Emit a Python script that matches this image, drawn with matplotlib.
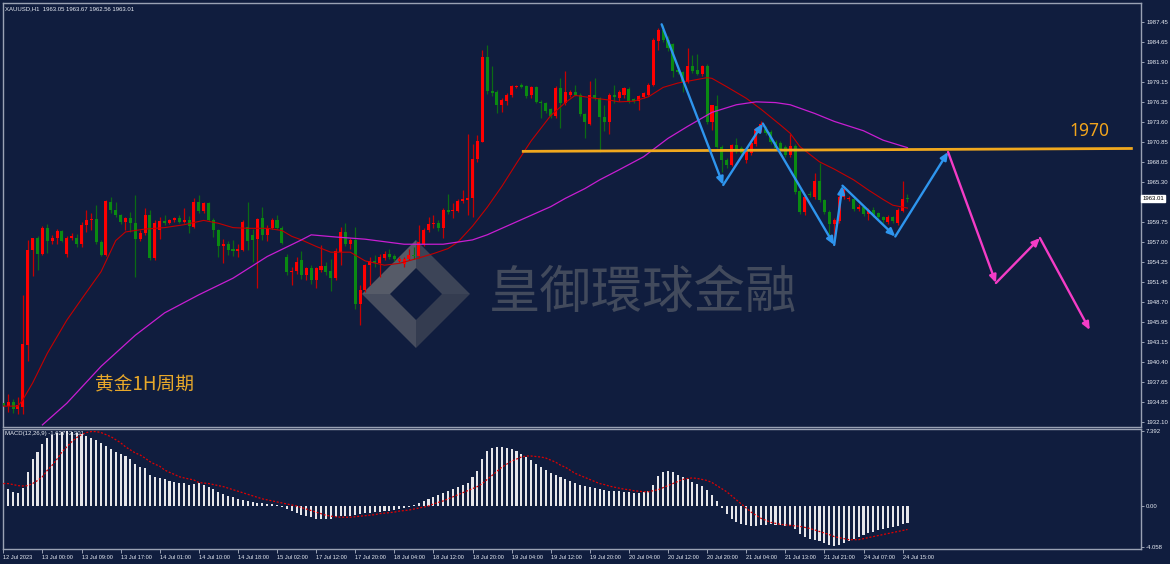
import matplotlib
matplotlib.use("Agg")
import matplotlib.pyplot as plt
from matplotlib.patches import Polygon
import numpy as np

# ---------------- data ----------------
title_text = "XAUUSD,H1  1963.05 1963.67 1962.56 1963.01"
macd_text = "MACD(12,26,9) -1.627 -2.301"

opens = [1934.8,1934.3,1934.9,1933.85,1934.2,1942.8,1955.9,1957.5,1955.4,1959.0,
         1957.1,1957.6,1958.5,1955.4,1957.6,1957.6,1956.8,1959.4,1960.0,1960.2,
         1957.0,1955.2,1962.6,1961.5,1960.7,1959.8,1960.3,1959.7,1957.4,1958.3,
         1960.7,1954.8,1958.7,1959.9,1959.7,1960.0,1960.3,1959.8,1960.1,1959.1,
         1962.6,1961.3,1962.4,1960.1,1958.6,1956.4,1956.7,1956.0,1955.7,1955.9,
         1959.1,1958.0,1957.4,1960.3,1958.0,1959.0,1960.1,1959.0,1955.0,1952.8,
         1953.0,1954.5,1952.4,1953.4,1951.75,1953.1,1953.7,1953.0,1952.0,1955.6,
         1958.4,1956.8,1957.3,1948.4,1950.4,1953.8,1954.4,1954.05,1954.8,1955.4,
         1955.1,1954.4,1953.9,1954.7,1955.2,1955.1,1956.8,1958.7,1959.5,1959.7,
         1958.9,1961.4,1961.3,1961.3,1962.7,1962.8,1963.05,1968.5,1970.9,1982.65,
         1977.9,1977.7,1976.0,1976.5,1977.4,1978.5,1978.7,1978.6,1977.3,1978.4,
         1976.4,1976.2,1975.4,1974.5,1978.3,1976.2,1977.35,1977.7,1977.3,1974.7,
         1973.4,1977.35,1976.9,1974.35,1973.6,1977.35,1977.0,1977.4,1978.2,1976.8,
         1976.5,1977.1,1977.4,1978.8,1984.8,1986.35,1984.96,1984.4,1980.8,1980.5,
         1979.2,1981.4,1980.8,1980.3,1981.3,1973.66,1975.8,1970.2,1968.36,1967.7,
         1970.4,1970.0,1968.4,1969.3,1970.5,1972.5,1972.65,1972.2,1970.8,1970.7,
         1970.1,1969.05,1970.3,1964.07,1961.1,1963.6,1963.3,1965.5,1962.8,1961.2,
         1959.45,1959.9,1963.3,1963.0,1962.9,1961.6,1961.8,1960.9,1961.5,1961.0,
         1960.4,1959.8,1960.4,1959.7,1961.35,1963.05]
highs = [1936.0,1936.0,1935.3,1935.5,1949.7,1957.3,1957.6,1957.9,1959.2,1959.5,
         1958.0,1958.8,1958.7,1957.8,1958.2,1958.1,1959.8,1961.5,1961.0,1962.1,
         1957.3,1962.8,1963.3,1962.6,1960.9,1960.5,1961.2,1963.5,1958.6,1961.7,
         1961.4,1960.0,1960.5,1960.7,1960.2,1960.5,1960.7,1961.7,1960.6,1963.1,
         1963.5,1962.6,1962.6,1960.3,1958.8,1957.4,1957.2,1957.3,1956.8,1960.0,
         1962.6,1958.8,1960.3,1961.9,1959.3,1960.3,1960.8,1959.2,1955.3,1953.5,
         1955.0,1955.7,1953.6,1953.8,1953.6,1956.6,1954.3,1954.7,1956.2,1959.1,
         1959.6,1957.6,1959.1,1951.0,1954.0,1955.0,1955.2,1955.3,1955.7,1956.1,
         1955.4,1955.0,1955.0,1956.1,1956.3,1959.3,1959.0,1960.4,1960.7,1960.0,
         1961.7,1963.7,1962.4,1962.9,1964.2,1971.9,1970.5,1971.8,1983.6,1984.2,
         1981.3,1978.0,1977.0,1977.6,1978.8,1978.8,1979.0,1978.8,1978.6,1978.6,
         1976.6,1976.4,1975.6,1978.6,1979.65,1980.7,1978.0,1978.8,1977.6,1974.9,
         1979.3,1979.7,1977.1,1976.0,1977.6,1978.7,1978.0,1978.5,1978.4,1977.0,
         1977.4,1977.8,1979.0,1985.2,1986.6,1987.0,1985.5,1984.6,1981.5,1980.7,
         1983.8,1982.9,1983.0,1981.5,1981.6,1976.0,1977.35,1970.4,1968.6,1970.6,
         1971.4,1970.3,1969.8,1971.0,1972.9,1973.7,1973.0,1972.5,1971.1,1971.0,
         1970.4,1972.0,1970.6,1964.3,1963.6,1964.0,1966.5,1967.9,1963.0,1961.4,
         1960.3,1963.5,1964.6,1963.4,1963.2,1962.2,1962.0,1961.7,1961.8,1961.2,
         1960.6,1960.7,1960.6,1961.7,1965.45,1963.67]
lows = [1933.8,1933.5,1933.4,1933.2,1933.2,1940.6,1952.3,1953.1,1955.2,1955.5,
        1956.8,1956.7,1957.0,1955.0,1957.3,1956.3,1956.3,1958.4,1958.6,1956.8,
        1955.1,1955.1,1961.0,1960.5,1959.5,1958.7,1958.4,1952.2,1957.2,1958.0,
        1954.5,1954.5,1957.4,1959.4,1959.5,1959.8,1959.6,1959.6,1958.2,1958.9,
        1961.0,1961.0,1959.9,1957.7,1955.0,1954.1,1955.2,1955.1,1955.0,1955.7,
        1955.9,1954.3,1950.7,1957.3,1957.1,1958.8,1958.8,1956.7,1952.5,1951.0,
        1952.6,1951.9,1951.8,1951.2,1950.6,1952.9,1952.5,1950.2,1951.8,1953.8,
        1956.4,1956.0,1947.8,1945.5,1950.1,1951.1,1953.6,1952.2,1954.5,1954.7,
        1954.4,1954.2,1953.6,1954.5,1954.6,1954.8,1956.5,1958.4,1959.0,1958.5,
        1957.5,1960.9,1960.3,1961.2,1962.4,1960.7,1960.5,1968.1,1970.8,1977.5,
        1977.2,1974.8,1975.0,1976.0,1977.1,1978.3,1978.3,1977.0,1977.0,1976.2,
        1974.2,1974.9,1974.2,1974.2,1972.8,1976.0,1977.1,1977.2,1974.4,1971.35,
        1973.2,1976.6,1969.5,1972.3,1971.9,1976.2,1976.5,1977.0,1976.3,1976.3,
        1975.3,1976.9,1977.2,1978.6,1983.6,1984.7,1983.5,1979.9,1980.2,1977.7,
        1979.0,1980.4,1980.1,1980.0,1973.4,1972.5,1970.0,1966.7,1967.3,1967.5,
        1969.3,1969.0,1968.0,1969.0,1970.3,1972.2,1971.8,1970.5,1969.7,1969.4,
        1968.8,1968.8,1963.7,1960.9,1960.8,1963.2,1963.0,1962.5,1960.9,1958.0,
        1956.6,1959.6,1963.0,1962.7,1961.3,1961.3,1960.6,1960.0,1960.5,1960.1,
        1959.7,1959.5,1959.6,1959.4,1961.1,1962.56]
closes = [1934.3,1934.9,1933.85,1934.45,1942.9,1955.9,1957.5,1955.4,1959.0,1957.1,
          1957.6,1958.5,1957.2,1957.6,1957.8,1956.8,1959.4,1960.0,1960.2,1957.0,
          1955.2,1962.7,1961.5,1960.7,1959.8,1960.3,1959.7,1957.4,1958.3,1960.7,
          1954.8,1959.7,1959.9,1959.7,1960.0,1960.3,1959.8,1960.1,1959.2,1962.6,
          1961.3,1962.4,1960.1,1958.6,1956.4,1956.7,1955.9,1955.7,1956.0,1959.8,
          1957.2,1957.3,1960.2,1958.0,1959.0,1960.1,1959.0,1956.9,1952.8,1953.0,
          1954.3,1952.4,1953.4,1951.75,1953.4,1953.7,1952.9,1952.0,1955.7,1958.4,
          1956.8,1957.3,1948.4,1950.4,1953.8,1954.4,1954.1,1955.0,1955.3,1955.0,
          1954.7,1954.7,1954.7,1955.2,1955.1,1957.0,1958.7,1959.5,1959.7,1958.9,
          1961.4,1961.2,1961.4,1962.7,1963.0,1963.05,1968.5,1971.0,1982.65,1977.9,
          1977.6,1976.0,1976.7,1977.4,1978.6,1978.6,1978.5,1977.2,1978.4,1976.4,
          1976.2,1975.1,1974.5,1978.3,1976.2,1977.7,1977.7,1977.4,1974.7,1973.6,
          1977.35,1976.9,1974.35,1973.6,1977.35,1977.1,1977.7,1978.3,1976.5,1976.5,
          1977.2,1977.6,1978.8,1984.96,1986.35,1984.96,1983.9,1980.7,1980.5,1979.2,
          1981.4,1980.7,1980.3,1981.3,1973.66,1975.9,1970.2,1968.36,1967.7,1970.4,
          1969.6,1969.3,1969.5,1970.7,1972.65,1973.4,1972.05,1970.8,1970.0,1969.7,
          1969.1,1970.3,1963.97,1961.1,1963.3,1963.5,1965.5,1962.8,1961.2,1959.45,
          1960.05,1963.3,1964.4,1963.1,1961.6,1961.9,1960.9,1961.4,1960.75,1960.4,
          1960.0,1960.4,1959.9,1961.4,1963.0,1963.01]

ma_red_bar = [0,3,4,6,9,13,16,20,23,25,29,33,37,41,44,47,50,54,57,59,61,64,67,71,74,78,81,84,
              88,91,93,96,99,102,105,108,112,115,117,121,124,126,129,132,135,138,142,144,145,
              148,152,155,159,161,163,167,170,174,177,180,182,185]
ma_red_val = [1934.3,1934.3,1935.2,1937.5,1941.6,1946.2,1949.1,1952.9,1957.2,1958.4,1958.8,
              1959.0,1959.4,1960.0,1959.6,1959.0,1958.9,1958.9,1958.6,1957.8,1957.3,1956.4,
              1955.6,1955.6,1954.4,1953.8,1954.05,1954.6,1955.4,1956.1,1957.0,1959.2,1961.8,
              1964.7,1967.9,1971.0,1974.5,1976.3,1977.3,1976.9,1976.65,1976.4,1976.5,1977.1,
              1978.4,1979.0,1979.5,1979.75,1979.65,1978.5,1976.9,1975.4,1973.2,1972.05,
              1970.2,1968.1,1967.1,1965.6,1964.2,1962.9,1962.1,1961.7]

ma_mag_bar = [8,13,20,27,33,40,47,54,61,63,68,74,82,90,93,96,99,105,112,115,119,122,124,126,
              131,136,140,145,150,154,158,161,166,170,176,180,185]
ma_mag_val = [1931.7,1934.7,1939.8,1944.1,1947.2,1949.7,1952.0,1955.0,1957.3,1958.0,1957.7,
              1957.4,1956.7,1956.7,1957.0,1957.3,1958.0,1959.8,1961.9,1963.05,1964.4,1965.6,
              1966.3,1967.0,1968.8,1971.35,1973.0,1974.95,1976.0,1976.4,1976.3,1976.0,1974.8,
              1973.7,1972.4,1971.1,1970.06]

macd_hist = [1.83,1.63,1.40,1.24,1.73,3.36,4.58,5.33,
             6.1,6.7,7.0,7.2,7.3,7.35,7.3,7.2,7.1,6.9,6.7,6.5,6.2,5.9,5.6,
             5.3,5.1,4.9,4.58,4.12,3.79,3.69,3.04,2.88,2.71,2.61,2.48,2.39,2.29,2.29,2.06,2.16,2.22,
             2.1,1.9,1.7,1.4,1.2,1.0,0.85,0.7,0.55,0.5,0.4,0.3,0.25,0.2,0.15,0.1,
             -0.1,-0.3,-0.5,-0.7,-0.9,-1.0,-1.1,-1.25,-1.3,-1.3,-1.25,-1.1,-1.0,-0.95,-1.0,-0.9,
             -0.8,-0.7,-0.65,-0.6,-0.55,-0.5,-0.45,-0.4,-0.3,-0.2,-0.1,
             0.1,0.3,0.5,0.7,0.9,1.1,1.3,1.5,1.7,1.9,2.1,2.3,
             2.8,3.4,4.6,5.4,5.7,5.8,5.8,5.7,5.6,5.4,5.1,4.8,4.5,4.1,3.8,3.5,3.2,
             3.0,2.8,2.6,2.5,2.3,2.1,2.0,1.9,1.8,1.7,1.6,1.5,1.5,1.45,1.4,1.35,1.3,1.3,
             1.35,1.5,2.1,2.9,3.3,3.4,3.3,3.0,2.8,2.6,2.4,2.2,2.0,1.6,1.1,
             0.5,-0.2,-0.8,-1.3,-1.6,-1.8,-1.9,-2.0,-1.95,-1.9,-1.85,-1.8,-1.85,-1.9,-2.0,
             -2.0,-2.3,-2.7,-3.0,-3.2,-3.3,-3.4,-3.6,-3.8,-3.9,-3.8,-3.6,-3.4,-3.2,-3.0,
             -2.8,-2.6,-2.5,-2.4,-2.3,-2.2,-2.1,-2.0,-1.8,-1.627]
macd_signal = [2.2,2.2,2.1,2.0,1.96,2.0,2.2,2.5,2.87,3.5,4.0,4.6,5.3,5.8,6.3,6.7,7.0,7.2,7.3,7.3,
               7.2,7.0,6.8,6.5,6.2,5.8,5.5,5.2,5.0,4.7,4.35,4.1,3.9,3.53,3.3,3.1,2.87,2.75,2.65,2.55,2.3,
               2.25,2.2,2.1,2.0,1.9,1.75,1.6,1.45,1.3,1.15,1.0,0.85,0.7,0.6,0.5,0.4,
               0.3,0.2,0.1,0.0,-0.15,-0.3,-0.45,-0.6,-0.75,-0.9,-1.0,-1.05,-1.1,-1.1,-1.1,-1.05,
               -1.0,-0.95,-0.9,-0.85,-0.75,-0.7,-0.65,-0.6,-0.5,-0.45,-0.4,
               -0.3,-0.2,-0.1,0.0,0.2,0.35,0.5,0.7,0.9,1.1,1.3,1.5,
               1.7,1.9,2.2,2.6,3.0,3.4,3.8,4.1,4.4,4.6,4.8,4.9,4.9,4.85,4.8,4.7,4.5,
               4.3,4.0,3.8,3.5,3.2,3.0,2.8,2.6,2.4,2.2,2.1,1.95,1.85,1.75,1.65,1.6,1.5,1.45,
               1.4,1.4,1.5,1.6,1.8,2.0,2.2,2.4,2.6,2.7,2.75,2.7,2.6,2.5,2.3,
               2.0,1.7,1.4,1.0,0.6,0.2,-0.2,-0.6,-0.9,-1.2,-1.4,-1.6,-1.7,-1.8,-1.85,
               -1.9,-1.95,-2.0,-2.1,-2.2,-2.35,-2.5,-2.65,-2.8,-3.0,-3.1,-3.2,-3.3,-3.3,-3.3,
               -3.2,-3.1,-3.0,-2.9,-2.8,-2.7,-2.6,-2.5,-2.4,-2.301]

price_ticks = [1987.45,1984.65,1981.90,1979.15,1976.35,1973.60,1970.85,1968.05,1965.30,
               1959.75,1957.00,1954.25,1951.45,1948.70,1945.95,1943.15,1940.40,1937.65,
               1934.85,1932.10]
macd_ticks = [7.392, 0.00, -4.058]
macd_tick_labels = ["7.392", "0.00", "-4.058"]
time_tick_bars = list(range(0, 185, 8))
time_tick_labels = ["12 Jul 2023","13 Jul 00:00","13 Jul 09:00","13 Jul 17:00","14 Jul 01:00",
                    "14 Jul 10:00","14 Jul 18:00","15 Jul 02:00","17 Jul 12:00","17 Jul 20:00",
                    "18 Jul 04:00","18 Jul 12:00","18 Jul 20:00","19 Jul 04:00","19 Jul 12:00",
                    "19 Jul 20:00","20 Jul 04:00","20 Jul 12:00","20 Jul 20:00","21 Jul 04:00",
                    "21 Jul 13:00","21 Jul 21:00","24 Jul 07:00","24 Jul 15:00"]
last_price = 1963.01

level_bar = [106.1, 231.1]
level_val = [1969.55, 1969.95]
level_label = "1970"

blue_bar = [134.7, 147.3, 155.4, 170.0, 171.7, 182.5, 193.3]
blue_val = [1987.13, 1964.9, 1973.4, 1956.6, 1964.8, 1957.77, 1969.46]
pink_bar = [193.3, 203.1, 212.1, 222.3]
pink_val = [1969.46, 1951.34, 1957.56, 1944.83]

period_label = "黄金1H周期"
watermark = "皇御環球金融"

# ---------------- style ----------------
W, H = 1170, 564
BG = "#101d3e"
FRAME = "#9aa2b4"
TXT = "#e8ecf4"
UP = "#ff0000"
DOWN = "#0a8a12"
UPW = "#c80000"
DOWNW = "#0b6a14"
small_font = ["Liberation Sans", "DejaVu Sans"]
FS = 4.3

fig = plt.figure(figsize=(W / 100, H / 100), dpi=100, facecolor=BG)

def fx(px):
    return px / W

def fy(py):
    return 1 - py / H

# bar i sits at pixel 3.3 + 4.8875 * i
def bar_lim(px):
    return (px - 3.3) / 4.8875

XL = (bar_lim(3), bar_lim(1141))

# background overlay for watermark
bg_ax = fig.add_axes([0, 0, 1, 1], zorder=0)
bg_ax.set_xlim(0, W)
bg_ax.set_ylim(H, 0)
bg_ax.axis("off")
outer = dict(t=(416, 240), r=(470, 294), b=(416, 348), l=(362, 294))
inner = dict(t=(416, 268), r=(442, 294), b=(416, 320), l=(390, 294))
bands = [
    ([outer["l"], outer["t"], inner["t"], inner["l"]], "#565b68"),
    ([outer["t"], outer["r"], inner["r"], inner["t"]], "#3c4457"),
    ([outer["r"], outer["b"], inner["b"], inner["r"]], "#343c50"),
    ([outer["b"], outer["l"], inner["l"], inner["b"]], "#474d5e"),
]
for pts, col in bands:
    bg_ax.add_patch(Polygon(pts, closed=True, facecolor=col, edgecolor="none"))
bg_ax.text(643, 293, watermark, fontsize=37, color="#424a5c", ha="center", va="center",
           family=["Noto Sans CJK TC", "Noto Sans CJK SC", "DejaVu Sans"])

# ---------------- main price axes ----------------
ax = fig.add_axes([fx(3), fy(427), fx(1141) - fx(3), (427 - 3) / H], zorder=1)
ax.set_facecolor("none")
ax.set_xlim(*XL)

def price_at(py):
    return 1987.45 - (py - 22) / 7.227

ax.set_ylim(price_at(427), price_at(3))

o = np.array(opens); h = np.array(highs); l = np.array(lows); c = np.array(closes)
xs = np.arange(len(c))
up = c >= o
ax.vlines(xs[up], l[up], h[up], color=UPW, lw=0.9, zorder=2)
ax.vlines(xs[~up], l[~up], h[~up], color=DOWNW, lw=0.9, zorder=2)
body_lo = np.minimum(o, c)
body_h = np.maximum(np.abs(c - o), 0.13)
ax.bar(xs[up], body_h[up], bottom=body_lo[up], width=0.62, color=UP, linewidth=0, zorder=3)
ax.bar(xs[~up], body_h[~up], bottom=body_lo[~up], width=0.62, color=DOWN, linewidth=0, zorder=3)

ax.plot(ma_red_bar, ma_red_val, color="#c40000", lw=0.8, zorder=4)
ax.plot(ma_mag_bar, ma_mag_val, color="#c81ed2", lw=0.9, zorder=4)

ax.plot(level_bar, level_val, color="#f0a81e", lw=2.0, zorder=5, solid_capstyle="butt")
ax.text(222.3, 1972.4, level_label, color="#f2a51c", fontsize=12.5, ha="center", va="center",
        family=["Noto Sans", "DejaVu Sans"], zorder=6)

def arrows(bx, by, col):
    for i in range(len(bx) - 1):
        ax.annotate("", xy=(bx[i + 1], by[i + 1]), xytext=(bx[i], by[i]),
                    arrowprops=dict(arrowstyle="-|>,head_length=0.45,head_width=0.2",
                                    color=col, lw=1.7, shrinkA=0, shrinkB=0),
                    zorder=7)

arrows(blue_bar, blue_val, "#2e95ee")
arrows(pink_bar, pink_val, "#f43cc6")

ax.text(18.7, 1937.2, period_label, color="#e8a82a", fontsize=13.5, ha="left", va="center",
        family=["Noto Sans CJK SC", "DejaVu Sans"], zorder=6)

ax.yaxis.tick_right()
ax.set_yticks(price_ticks)
ax.set_yticklabels([f"{v:.2f}" for v in price_ticks])
ax.tick_params(axis="y", direction="out", length=2.5, width=0.7, color=FRAME, labelcolor=TXT,
               labelsize=FS, pad=1.2)
for lab in ax.get_yticklabels():
    lab.set_family(small_font)
ax.set_xticks([])
for s in ax.spines.values():
    s.set_color(FRAME)
    s.set_linewidth(1.0)

ax.text(1.0012, last_price, f"{last_price:.2f}", transform=ax.get_yaxis_transform(),
        ha="left", va="center", fontsize=FS, color="black", family=small_font,
        bbox=dict(boxstyle="square,pad=0.2", facecolor="white", edgecolor="white"),
        clip_on=False, zorder=10)
ax.text(0.002, 0.992, title_text, transform=ax.transAxes, ha="left", va="top", fontsize=FS,
        color=TXT, family=small_font)

# ---------------- MACD axes ----------------
ax2 = fig.add_axes([fx(3), fy(549), fx(1141) - fx(3), (549 - 429) / H], zorder=1)
ax2.set_facecolor("none")
ax2.set_xlim(*XL)

def macd_at(py):
    return (506 - py) / 10.2

ax2.set_ylim(macd_at(549), macd_at(429))
mx = np.arange(len(macd_hist))
ax2.bar(mx, macd_hist, width=0.42, color="#e6e6ea", linewidth=0, zorder=2)
ax2.plot(np.arange(len(macd_signal)), macd_signal, color="#e00000", lw=0.9,
         linestyle=(0, (1.6, 1.4)), zorder=3)
ax2.yaxis.tick_right()
ax2.set_yticks(macd_ticks)
ax2.set_yticklabels(macd_tick_labels)
ax2.tick_params(axis="y", direction="out", length=2.5, width=0.7, color=FRAME, labelcolor=TXT,
                labelsize=FS, pad=1.2)
ax2.set_xticks(time_tick_bars)
ax2.set_xticklabels(time_tick_labels)
ax2.tick_params(axis="x", direction="out", length=3, width=0.7, color=FRAME, labelcolor=TXT,
                labelsize=4.1, pad=1.5)
for lab in ax2.get_xticklabels():
    lab.set_ha("left")
    lab.set_family(small_font)
for lab in ax2.get_yticklabels():
    lab.set_family(small_font)
for s in ax2.spines.values():
    s.set_color(FRAME)
    s.set_linewidth(1.0)
ax2.text(0.002, 0.985, macd_text, transform=ax2.transAxes, ha="left", va="top", fontsize=FS,
         color=TXT, family=small_font)

fig.savefig("out.png", dpi=100, facecolor=BG)
